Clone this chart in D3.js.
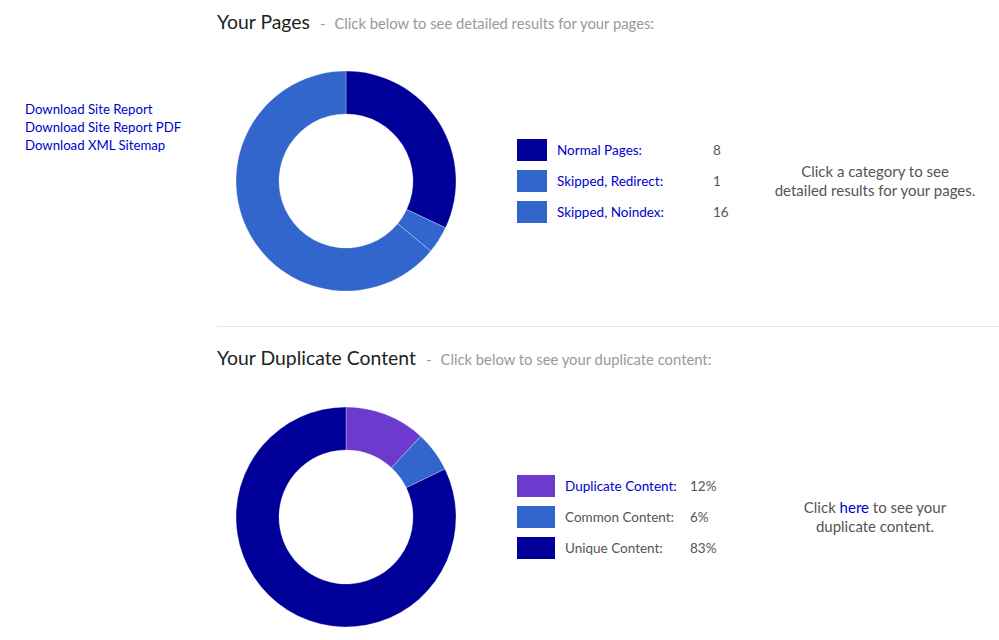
<!DOCTYPE html>
<html><head><meta charset="utf-8">
<script src="https://cdn.jsdelivr.net/npm/d3@7/dist/d3.min.js"></script>
<style>body{margin:0;background:#fff}svg{display:block}text{font-family:Lato,"Open Sans",sans-serif}</style>
</head><body><div id="c"></div>
<script>
const linkLabels = ["Download Site Report","Download Site Report PDF","Download XML Sitemap"];
const pageCategories = ["Normal Pages:","Skipped, Redirect:","Skipped, Noindex:"];
const pageValues = [8,1,16];
const pageColors = ["#000099","#3366cc","#3366cc"];
const dupCategories = ["Duplicate Content:","Common Content:","Unique Content:"];
const dupValues = [12,6,83];
const dupColors = ["#6d3acf","#3366cc","#000099"];

const W=999,H=640;
const svg=d3.select("#c").append("svg").attr("width",W).attr("height",H);

// left links
svg.selectAll("text.link").data(linkLabels).enter().append("text")
  .attr("x",25).attr("y",(d,i)=>114+i*18).attr("font-size",13.2).attr("fill","#0000cc").text(d=>d);

function section(top, title, sub, cats, vals, colors, valFmt, catColors, swW, valX, note){
  const t=svg.append("text").attr("x",217).attr("y",top+29).attr("font-size",19.4).attr("fill","#222");
  t.append("tspan").text(title);
  t.append("tspan").attr("dx",10).attr("font-size",14.8).attr("fill","#999").text("-");
  t.append("tspan").attr("dx",9).attr("font-size",14.8).attr("fill","#999").text(sub);
  const cx=346, cy=top+181, R=110, r=67;
  const pie=d3.pie().sort(null).value(d=>d)(vals);
  const arc=d3.arc().innerRadius(r).outerRadius(R);
  svg.append("g").attr("transform",`translate(${cx},${cy})`).selectAll("path").data(pie).enter()
    .append("path").attr("d",arc).attr("fill",(d,i)=>colors[i]).attr("stroke","#fff").attr("stroke-width",0.3);
  const y=d3.scalePoint().domain(d3.range(cats.length)).range([cy-31,cy+31]);
  const g=svg.append("g");
  cats.forEach((c,i)=>{
    g.append("rect").attr("x",517).attr("y",y(i)-11).attr("width",swW).attr("height",22).attr("fill",colors[i]);
    g.append("text").attr("x",517+swW+10).attr("y",y(i)+4.5).attr("font-size",13.5).attr("fill",catColors[i]).text(c);
    g.append("text").attr("x",valX).attr("y",y(i)+4.5).attr("font-size",13.5).attr("fill","#555").text(valFmt(vals[i]));
  });
  const n=svg.append("text").attr("x",note.x).attr("y",cy-4).attr("font-size",15).attr("fill","#555").attr("text-anchor","middle");
  note.lines.forEach((ln,j)=>{
    const ts=n.append("tspan").attr("x",note.x).attr("dy",j?19:0);
    ln.forEach(p=>ts.append("tspan").attr("fill",p.c||"#555").text(p.t));
  });
}

section(0,"Your Pages","Click below to see detailed results for your pages:",pageCategories,pageValues,pageColors,
  d=>d,["#0000cc","#0000cc","#0000cc"],30,713,
  {x:875,lines:[[{t:"Click a category to see"}],[{t:"detailed results for your pages."}]]});

svg.append("line").attr("x1",217).attr("x2",999).attr("y1",326.5).attr("y2",326.5).attr("stroke","#e6e6e6");

section(336,"Your Duplicate Content","Click below to see your duplicate content:",dupCategories,dupValues,dupColors,
  d=>d+"%",["#0000cc","#555","#555"],38,690,
  {x:875,lines:[[{t:"Click "},{t:"here",c:"#0000cc"},{t:" to see your"}],[{t:"duplicate content."}]]});
</script></body></html>
